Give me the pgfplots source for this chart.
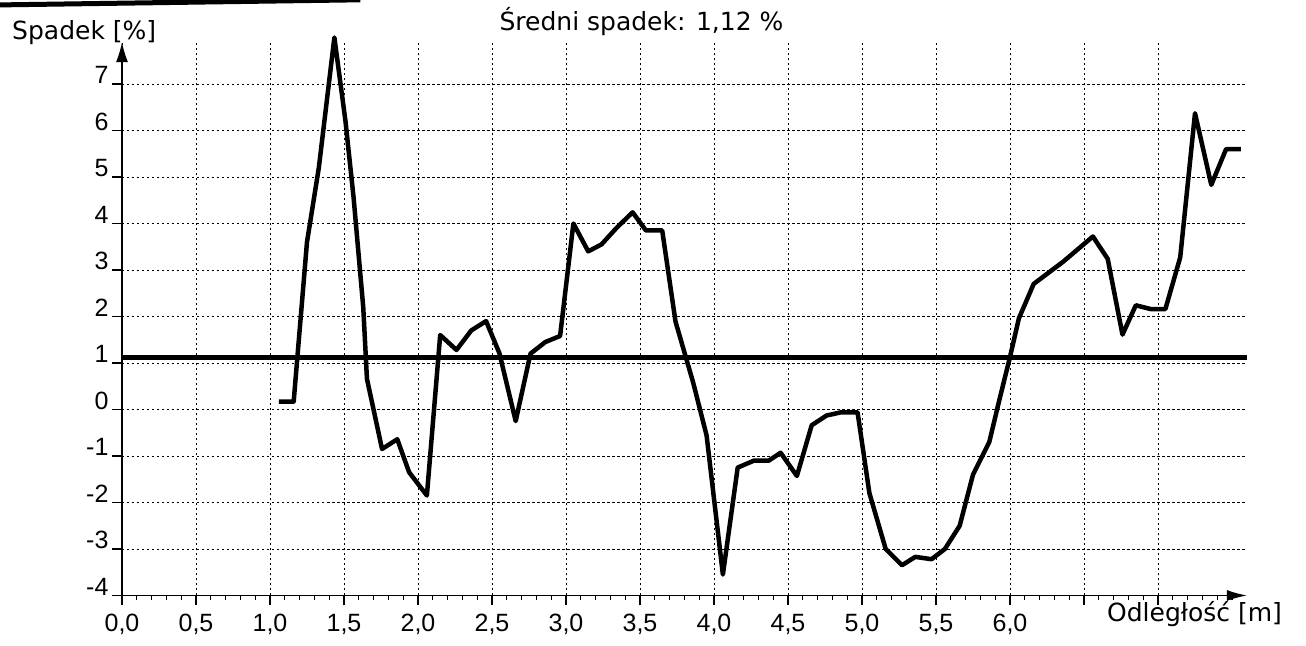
\documentclass[border=0pt]{standalone}
\usepackage{pgfplots}
\pgfplotsset{compat=1.18}
\usetikzlibrary{arrows.meta}
\usepackage{fontspec}
\setmainfont{DejaVu Sans}
\newfontfamily\tickfont{Liberation Sans}

\begin{document}
\begin{tikzpicture}
\begin{axis}[
  x=148pt, y=46.5pt,
  xmin=0, xmax=7.6, ymin=-4, ymax=7.9,
  axis x line=bottom, axis y line=left,
  axis line style={line width=1.3pt},
  x axis line style={-{Latex[length=20pt,width=11pt]}},
  y axis line style={-{Latex[length=20pt,width=12pt]}},
  clip=false,
  xtick={0,0.5,...,7},
  xticklabels={{0,0},{0,5},{1,0},{1,5},{2,0},{2,5},{3,0},{3,5},{4,0},{4,5},{5,0},{5,5},{6,0},{},{}},
  ytick={-4,-3,...,7},
  yticklabels={-4,-3,-2,-1,0,1,2,3,4,5,6,7},
  minor xtick={0.1,0.2,...,7.5},
  tick align=outside,
  major tick length=10pt,
  minor tick length=5pt,
  tick style={black, line width=1.1pt},
  grid=major,
  major grid style={black, line width=0.9pt, dash pattern=on 2.5pt off 2.5pt},
  ticklabel style={font=\tickfont\fontsize{25}{30}\selectfont},
  xticklabel style={anchor=base, yshift=-26pt},
  yticklabel style={anchor=base east},
]
\addplot[black, line width=5pt] coordinates {(0,1.12) (7.6,1.12)};
\addplot[black, line width=4.5pt, line join=round] coordinates {
(1.06,0.17) (1.16,0.17) (1.25,3.6) (1.33,5.2) (1.435,8.0) (1.51,6.2)
(1.565,4.55) (1.63,2.2) (1.655,0.66) (1.757,-0.85) (1.86,-0.64) (1.94,-1.35)
(2.06,-1.85) (2.15,1.6) (2.26,1.28) (2.36,1.7) (2.46,1.9) (2.55,1.21)
(2.66,-0.25) (2.76,1.2) (2.86,1.45) (2.96,1.58) (3.05,4.0) (3.15,3.4)
(3.24,3.55) (3.34,3.9) (3.45,4.24) (3.54,3.85) (3.65,3.85) (3.74,1.89)
(3.86,0.57) (3.95,-0.56) (4.06,-3.55) (4.16,-1.25) (4.27,-1.1) (4.37,-1.1)
(4.45,-0.93) (4.56,-1.43) (4.66,-0.34) (4.76,-0.13) (4.86,-0.06) (4.97,-0.06)
(5.05,-1.8) (5.16,-3.0) (5.27,-3.35) (5.36,-3.17) (5.47,-3.22) (5.56,-3.0)
(5.66,-2.5) (5.75,-1.4) (5.86,-0.7) (5.93,0.23) (6.0,1.13) (6.06,1.96)
(6.16,2.7) (6.36,3.18) (6.56,3.72) (6.66,3.24) (6.76,1.61) (6.85,2.24)
(6.95,2.16) (7.05,2.16) (7.15,3.27) (7.25,6.37) (7.36,4.83) (7.46,5.6) (7.56,5.6)
};
\draw[black, line width=5pt] (axis cs:-0.83,8.70) -- (axis cs:1.61,8.81);
\node[anchor=base] at (axis cs:3.51,8.14) {\fontsize{25}{30}\selectfont Średni spadek: 1,12 \%};
\node[anchor=base west, inner sep=0pt] at (axis cs:-0.743,7.95) {\fontsize{25}{30}\selectfont Spadek [\%]};
\node[anchor=base west, inner sep=0pt] at (axis cs:6.655,-4.56) {\fontsize{25}{30}\selectfont Odległość [m]};
\coordinate (BL) at (axis cs:-0.8243,-5.075);
\coordinate (TR) at (axis cs:8.0,8.806);
\end{axis}
\pgfresetboundingbox
\path[use as bounding box] (BL) rectangle (TR);
\end{tikzpicture}
\end{document}
